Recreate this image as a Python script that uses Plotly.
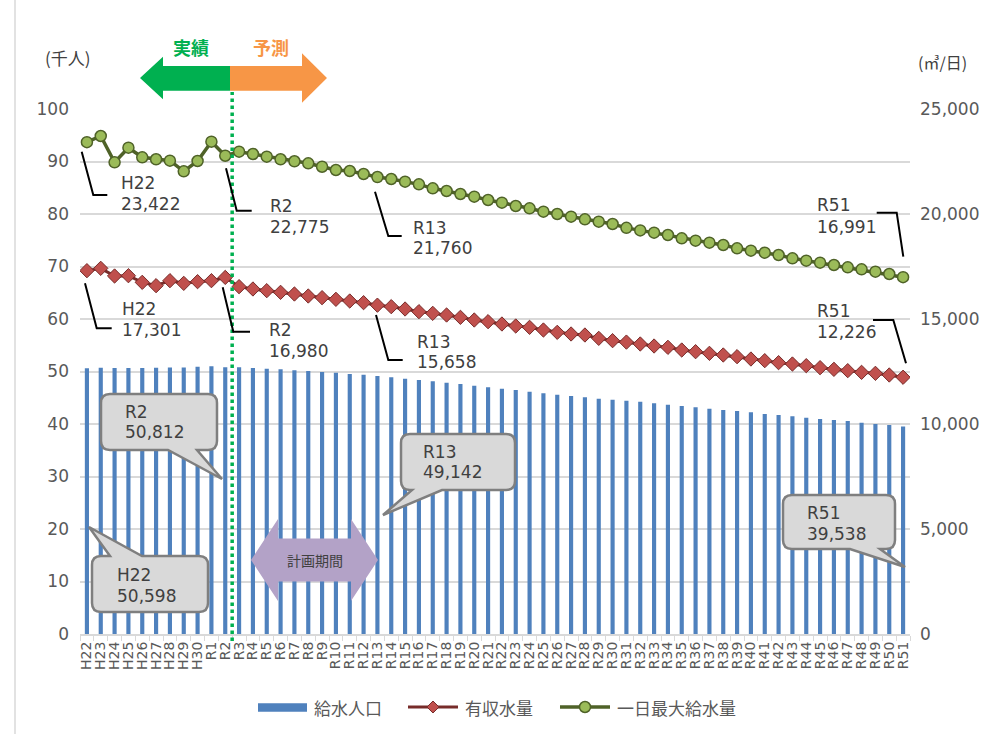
import plotly.graph_objects as go

# ---------------- data ----------------
categories = [
    "H22", "H23", "H24", "H25", "H26", "H27", "H28", "H29", "H30",
    "R1", "R2", "R3", "R4", "R5", "R6", "R7", "R8", "R9", "R10",
    "R11", "R12", "R13", "R14", "R15", "R16", "R17", "R18", "R19", "R20",
    "R21", "R22", "R23", "R24", "R25", "R26", "R27", "R28", "R29", "R30",
    "R31", "R32", "R33", "R34", "R35", "R36", "R37", "R38", "R39", "R40",
    "R41", "R42", "R43", "R44", "R45", "R46", "R47", "R48", "R49", "R50", "R51",
]

# 給水人口 (千人)
population = [
    50.598, 50.70, 50.68, 50.65, 50.65, 50.70, 50.75, 50.78, 50.92,
    51.00, 50.812, 50.80, 50.65, 50.53, 50.42, 50.25, 50.09, 49.92, 49.75,
    49.53, 49.36, 49.142, 48.89, 48.63, 48.38, 48.13, 47.87, 47.62, 47.30,
    46.98, 46.73, 46.48, 46.16, 45.84, 45.59, 45.33, 45.08, 44.83, 44.63,
    44.44, 44.25, 43.94, 43.68, 43.43, 43.17, 42.92, 42.67, 42.48, 42.22,
    41.90, 41.71, 41.46, 41.20, 40.95, 40.76, 40.57, 40.25, 40.00, 39.81, 39.538,
]

# 有収水量 (m3/日)
revenue_water = [
    17301, 17413, 17048, 17062, 16746, 16587, 16825, 16698, 16778,
    16825, 16980, 16540, 16429, 16349, 16270, 16190, 16095, 16016, 15937,
    15857, 15778, 15658, 15587, 15476, 15349, 15270, 15190, 15079, 14952,
    14873, 14762, 14667, 14603, 14476, 14365, 14286, 14238, 14079, 13968,
    13900, 13810, 13714, 13651, 13524, 13444, 13365, 13286, 13206, 13095,
    13016, 12921, 12857, 12778, 12683, 12603, 12540, 12460, 12413, 12333, 12226,
]

# 一日最大給水量 (m3/日)
max_daily = [
    23422, 23714, 22462, 23157, 22700, 22605, 22540, 22033, 22524,
    23443, 22775, 22967, 22857, 22730, 22605, 22510, 22414, 22252, 22095,
    22048, 21905, 21760, 21667, 21540, 21413, 21222, 21095, 20952, 20825,
    20667, 20540, 20381, 20270, 20111, 20000, 19873, 19746, 19635, 19524,
    19340, 19220, 19111, 19000, 18841, 18730, 18635, 18524, 18365, 18254,
    18159, 18048, 17889, 17778, 17683, 17571, 17460, 17365, 17254, 17143, 16991,
]

left_ticks = [0, 10, 20, 30, 40, 50, 60, 70, 80, 90, 100]
right_ticks = [0, 5000, 10000, 15000, 20000, 25000]

series_names = ["給水人口", "有収水量", "一日最大給水量"]

# ---------------- geometry helpers ----------------
W, H = 986, 734
ML, MR, MT, MB = 80, 76, 109, 100
PW = W - ML - MR
PH = H - MT - MB


def fx(x):
    return (x - ML) / PW


def fy(y):
    return (H - MB - y) / PH


def P(x, y):
    return f"{fx(x):.5f},{fy(y):.5f}"


NUM = "DejaVu Sans"
JP = "Noto Sans CJK JP"
TXT = "#404040"
TICK = "#595959"
GRID = "#D9D9D9"
BLUE = "#4F81BD"
RED_LINE = "#772C2A"
RED_FILL = "#C0504D"
GRN_LINE = "#4F6228"
GRN_FILL = "#9BBB59"

shapes = []
annotations = []


def poly(points, fill, line_color=None, line_width=0):
    d = "M " + " L ".join(P(x, y) for x, y in points) + " Z"
    shapes.append(dict(type="path", path=d, xref="paper", yref="paper",
                       fillcolor=fill, line=dict(color=line_color or fill, width=line_width),
                       layer="above"))


def polyline(points, color="black", width=2):
    d = "M " + " L ".join(P(x, y) for x, y in points)
    shapes.append(dict(type="path", path=d, xref="paper", yref="paper",
                       fillcolor="rgba(0,0,0,0)", line=dict(color=color, width=width),
                       layer="above"))


def callout(x0, y0, x1, y1, edge, b0, b1, tip, r=9):
    parts = [f"M {P(x0 + r, y0)}"]
    if edge == "top":
        parts += [f"L {P(b0, y0)}", f"L {P(*tip)}", f"L {P(b1, y0)}"]
    parts += [f"L {P(x1 - r, y0)}", f"Q {P(x1, y0)} {P(x1, y0 + r)}",
              f"L {P(x1, y1 - r)}", f"Q {P(x1, y1)} {P(x1 - r, y1)}"]
    if edge == "bottom":
        parts += [f"L {P(b1, y1)}", f"L {P(*tip)}", f"L {P(b0, y1)}"]
    parts += [f"L {P(x0 + r, y1)}", f"Q {P(x0, y1)} {P(x0, y1 - r)}",
              f"L {P(x0, y0 + r)}", f"Q {P(x0, y0)} {P(x0 + r, y0)}", "Z"]
    shapes.append(dict(type="path", path=" ".join(parts), xref="paper", yref="paper",
                       fillcolor="#D9D9D9", line=dict(color="#7F7F7F", width=2.5),
                       layer="above"))


def text(x, y, s, size=17, color=TXT, family=NUM, anchor="left"):
    annotations.append(dict(x=fx(x), y=fy(y), xref="paper", yref="paper", text=s,
                            showarrow=False, xanchor=anchor, yanchor="middle",
                            font=dict(size=size, color=color, family=family)))


def label2(x, y, cat, value, gap=20.5):
    text(x, y, cat)
    text(x, y + gap, value)


def idx(c):
    return categories.index(c)


def fmt(v):
    return f"{v:,.0f}"


# ---------------- traces ----------------
fig = go.Figure()
fig.add_trace(go.Bar(
    x=categories, y=population, width=0.3, name=series_names[0],
    marker=dict(color=BLUE, line=dict(width=0)), yaxis="y"))
fig.add_trace(go.Scatter(
    x=categories, y=revenue_water, mode="lines+markers", name=series_names[1],
    line=dict(color=RED_LINE, width=3),
    marker=dict(symbol="diamond", size=11, color=RED_FILL, line=dict(color=RED_LINE, width=1)),
    yaxis="y2"))
fig.add_trace(go.Scatter(
    x=categories, y=max_daily, mode="lines+markers", name=series_names[2],
    line=dict(color=GRN_LINE, width=3.5),
    marker=dict(symbol="circle", size=11, color=GRN_FILL, line=dict(color=GRN_LINE, width=1.5)),
    yaxis="y2"))

# ---------------- decorations ----------------
# chart area left border
shapes.append(dict(type="line", xref="paper", yref="paper", x0=fx(15), x1=fx(15),
                   y0=fy(0), y1=fy(734), line=dict(color="#D9D9D9", width=1.5)))

# 実績 / 予測 arrows
poly([(140, 78), (163, 56.7), (163, 66), (230, 66), (230, 90.7), (163, 90.7), (163, 99.3)], "#00B050")
poly([(230, 66), (302, 66), (302, 53.3), (327, 78), (302, 102.7), (302, 90.7), (230, 90.7)], "#F79646")
text(191, 47, "<b>実績</b>", size=18, color="#00B050", family=JP, anchor="center")
text(271, 47, "<b>予測</b>", size=18, color="#F79646", family=JP, anchor="center")

# boundary between 実績 and 予測 (between R2 and R3)
boundary = (idx("R2") + idx("R3")) / 2
shapes.append(dict(type="line", xref="x", yref="paper", x0=boundary, x1=boundary,
                   y0=fy(641), y1=fy(92), line=dict(color="#00B050", width=3.5, dash="dot"),
                   layer="above"))

# 計画期間 double arrow
poly([(251, 560), (278, 519), (278, 538.5), (351, 538.5), (351, 519), (378, 560),
      (351, 601), (351, 581.5), (278, 581.5), (278, 601)], "#B3A2C7")
text(314.5, 560, "計画期間", size=14, color="#404040", family=JP, anchor="center")

# axis unit labels
text(43, 57, "(千人)", size=17, color=TXT, family=JP)
text(916, 62, "(㎥/日)", size=16, color=TXT, family=JP)

# 一日最大給水量 labels
polyline([(81.7, 151.7), (93.3, 195), (107.3, 195)])
label2(119, 183, "H22", fmt(max_daily[idx("H22")]))
polyline([(226, 168.3), (236.7, 210.7), (251.7, 210.7)])
label2(268, 206, "R2", fmt(max_daily[idx("R2")]))
polyline([(375, 191.7), (388.3, 236), (401.7, 236)])
label2(411, 228, "R13", fmt(max_daily[idx("R13")]))
polyline([(876.7, 212.7), (896.7, 212.7), (903.3, 256.7)])
label2(815, 205, "R51", fmt(max_daily[idx("R51")]), gap=21.5)

# 有収水量 labels
polyline([(85, 283.3), (96.7, 328.3), (111.7, 328.3)])
label2(120, 309, "H22", fmt(revenue_water[idx("H22")]))
polyline([(222.7, 287.3), (233.3, 331.7), (250, 331.7)])
label2(267, 330, "R2", fmt(revenue_water[idx("R2")]))
polyline([(376, 315), (388.3, 360), (402.7, 360)])
label2(415, 341.7, "R13", fmt(revenue_water[idx("R13")]))
polyline([(873, 320), (893.3, 320), (906, 363.3)])
label2(815, 311, "R51", fmt(revenue_water[idx("R51")]), gap=21)

# 給水人口 callouts
callout(101, 394, 217, 450, "bottom", 168, 197, (222, 479))
label2(123, 411.7, "R2", fmt(population[idx("R2")] * 1000))
callout(92, 556, 208, 612, "top", 110, 142, (89, 527))
label2(115, 575, "H22", fmt(population[idx("H22")] * 1000))
callout(401, 434, 515, 490, "bottom", 412, 442, (383, 515))
label2(421, 452, "R13", fmt(population[idx("R13")] * 1000))
callout(783, 495, 895, 549, "bottom", 850, 880, (905, 567))
label2(805, 513, "R51", fmt(population[idx("R51")] * 1000))

# custom legend
poly([(258, 703.3), (307, 703.3), (307, 711.7), (258, 711.7)], BLUE)
text(312, 707, series_names[0], size=17, color=TICK, family=JP)
polyline([(408, 707), (458, 707)], color=RED_LINE, width=3)
poly([(427, 707), (433, 701), (439, 707), (433, 713)], RED_FILL, RED_LINE, 1)
text(463, 707, series_names[1], size=17, color=TICK, family=JP)
polyline([(560, 707), (610, 707)], color=GRN_LINE, width=3.5)
shapes.append(dict(type="circle", xref="paper", yref="paper",
                   x0=fx(579.5), x1=fx(590.5), y0=fy(712.5), y1=fy(701.5),
                   fillcolor=GRN_FILL, line=dict(color=GRN_LINE, width=1.5), layer="above"))
text(615, 707, series_names[2], size=17, color=TICK, family=JP)

# ---------------- layout ----------------
fig.update_layout(
    width=W, height=H,
    margin=dict(l=ML, r=MR, t=MT, b=MB, autoexpand=False),
    paper_bgcolor="white", plot_bgcolor="white",
    showlegend=False,
    xaxis=dict(type="category", tickmode="array", tickvals=categories, ticktext=categories,
               tickangle=-90, tickfont=dict(family=NUM, size=14, color=TICK),
               showline=True, linecolor=GRID, linewidth=2,
               ticks="outside", tickson="boundaries", ticklen=5, tickcolor=GRID,
               showgrid=False, range=[-0.5, len(categories) - 0.5], fixedrange=True),
    yaxis=dict(range=[0, 100], tickvals=left_ticks, showgrid=True, gridcolor=GRID, gridwidth=1.5,
               zeroline=False, showline=False, ticks="",
               tickfont=dict(family=NUM, size=17, color=TICK), ticklabelstandoff=10),
    yaxis2=dict(overlaying="y", side="right", range=[0, 25000], tickvals=right_ticks,
                tickformat=",", showgrid=False, zeroline=False, showline=False, ticks="",
                tickfont=dict(family=NUM, size=17, color=TICK), ticklabelstandoff=9),
    shapes=shapes,
    annotations=annotations,
)

fig.write_html("out.html", config={"displayModeBar": False},
               post_script="document.body.style.margin='0';document.body.style.overflow='hidden';")
